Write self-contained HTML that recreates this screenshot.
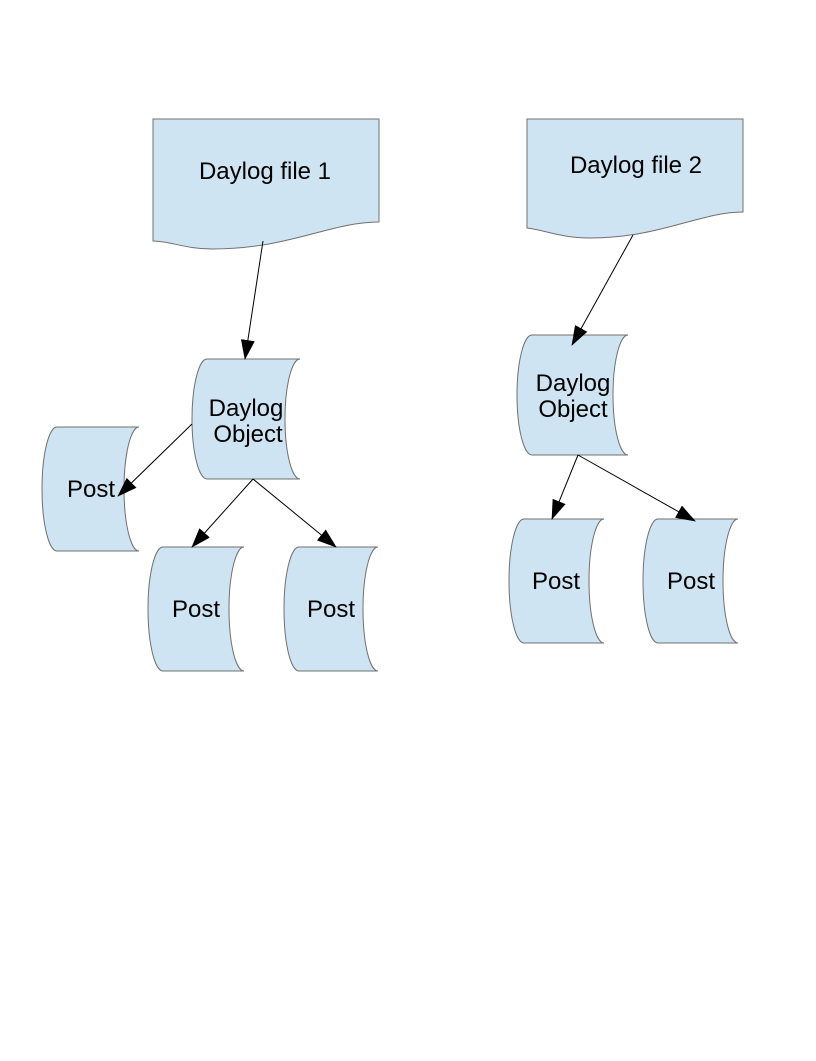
<!DOCTYPE html>
<html><head><meta charset="utf-8"><style>html,body{margin:0;padding:0;background:#fff}</style></head>
<body>
<svg width="816" height="1056" viewBox="0 0 816 1056" xmlns="http://www.w3.org/2000/svg">
<defs><marker id="a" markerWidth="20" markerHeight="14" refX="19" refY="7" orient="auto" markerUnits="userSpaceOnUse"><path d="M0 0 L20 7 L0 14 Z" fill="#000"/></marker></defs>
<g fill="#cfe4f2" stroke="#707070" stroke-width="1">
<path d="M153 119 L379 119 L379 222 C330 222 290 249 212 249 C185 249 170 241 153 241 Z"/>
<path d="M527 119 L743 119 L743 212 C700 212 660 238 590 238 C560 238 545 230 527 228 Z"/>
<path d="M207 359 L300 359 A15 60 0 0 0 300 479 L207 479 A15 60 0 0 1 207 359 Z"/>
<path d="M57 427 L139 427 A15 62 0 0 0 139 551 L57 551 A15 62 0 0 1 57 427 Z"/>
<path d="M163 547 L244 547 A15 62 0 0 0 244 671 L163 671 A15 62 0 0 1 163 547 Z"/>
<path d="M299 547 L378 547 A15 62 0 0 0 378 671 L299 671 A15 62 0 0 1 299 547 Z"/>
<path d="M532 335 L628 335 A15 60 0 0 0 628 455 L532 455 A15 60 0 0 1 532 335 Z"/>
<path d="M524 519 L604 519 A15 62 0 0 0 604 643 L524 643 A15 62 0 0 1 524 519 Z"/>
<path d="M658 519 L738 519 A15 62 0 0 0 738 643 L658 643 A15 62 0 0 1 658 519 Z"/>
</g>
<g stroke="#000" stroke-width="1" marker-end="url(#a)">
<line x1="263" y1="241" x2="245" y2="359"/>
<line x1="192" y1="424" x2="118" y2="496"/>
<line x1="253" y1="479" x2="192" y2="547"/>
<line x1="253" y1="479" x2="336" y2="547"/>
<line x1="633" y1="235" x2="572" y2="345"/>
<line x1="578" y1="455" x2="552" y2="519"/>
<line x1="578" y1="455" x2="695" y2="521"/>
</g>
<g font-family="Liberation Sans, sans-serif" font-size="24" text-anchor="middle" fill="#000">
<text x="265" y="179">Daylog file 1</text>
<text x="636" y="173">Daylog file 2</text>
<text x="246" y="416">Daylog</text>
<text x="248" y="442">Object</text>
<text x="573" y="391">Daylog</text>
<text x="573" y="417">Object</text>
<text x="91" y="497">Post</text>
<text x="196" y="617">Post</text>
<text x="331" y="617">Post</text>
<text x="556" y="589">Post</text>
<text x="691" y="589">Post</text>
</g>
</svg>
</body></html>
